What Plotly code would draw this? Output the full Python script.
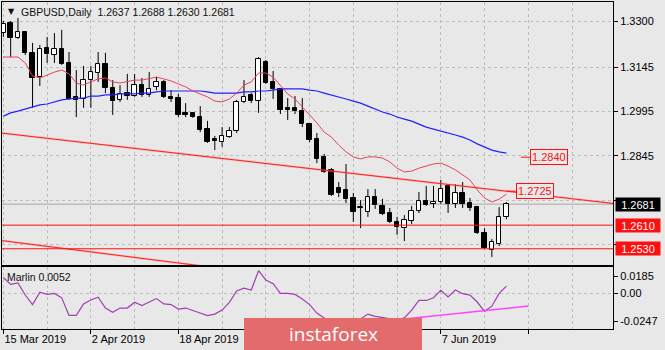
import plotly.graph_objects as go

# ---- GBPUSD daily bars (15 Mar 2019 .. 20 Jun 2019) ----
opens = [1.3260, 1.3294, 1.3244, 1.3264, 1.3193, 1.3112, 1.3210, 1.3186, 1.3206, 1.3159,
         1.3044, 1.3037, 1.3101, 1.3125, 1.3155, 1.3074, 1.3034, 1.3057, 1.3047, 1.3084,
         1.3051, 1.3078, 1.3095, 1.3044, 1.3040, 1.2990, 1.2990, 1.2976, 1.2935, 1.2902,
         1.2891, 1.2908, 1.2929, 1.3027, 1.3051, 1.3030, 1.3162, 1.3095, 1.3071, 1.3007,
         1.3007, 1.2996, 1.2952, 1.2902, 1.2841, 1.2797, 1.2736, 1.2729, 1.2702, 1.2669,
         1.2655, 1.2705, 1.2675, 1.2651, 1.2621, 1.2600, 1.2624, 1.2658, 1.2692, 1.2682,
         1.2688, 1.2743, 1.2682, 1.2719, 1.2685, 1.2671, 1.2583, 1.2526, 1.2546, 1.2637]
highs = [1.3301, 1.3301, 1.3311, 1.3267, 1.3227, 1.3220, 1.3247, 1.3260, 1.3271, 1.3196,
         1.3135, 1.3149, 1.3149, 1.3196, 1.3193, 1.3101, 1.3084, 1.3122, 1.3122, 1.3108,
         1.3128, 1.3112, 1.3101, 1.3067, 1.3054, 1.3023, 1.2993, 1.3013, 1.2963, 1.2912,
         1.2942, 1.2942, 1.3034, 1.3101, 1.3057, 1.3179, 1.3169, 1.3132, 1.3074, 1.3040,
         1.3047, 1.3040, 1.2956, 1.2922, 1.2851, 1.2803, 1.2756, 1.2817, 1.2719, 1.2695,
         1.2732, 1.2732, 1.2699, 1.2668, 1.2638, 1.2644, 1.2675, 1.2722, 1.2743, 1.2743,
         1.2763, 1.2749, 1.2749, 1.2756, 1.2702, 1.2674, 1.2600, 1.2563, 1.2671, 1.2688]
lows = [1.3247, 1.3179, 1.3240, 1.3186, 1.3007, 1.3081, 1.3159, 1.3159, 1.3152, 1.3034,
        1.2976, 1.3007, 1.3007, 1.3095, 1.3057, 1.2983, 1.3027, 1.3034, 1.3044, 1.3044,
        1.3044, 1.3067, 1.3040, 1.3027, 1.2976, 1.2976, 1.2973, 1.2925, 1.2888, 1.2864,
        1.2875, 1.2905, 1.2922, 1.3023, 1.3023, 1.2990, 1.3088, 1.3037, 1.2986, 1.2966,
        1.2986, 1.2942, 1.2891, 1.2820, 1.2787, 1.2709, 1.2705, 1.2685, 1.2621, 1.2600,
        1.2638, 1.2665, 1.2644, 1.2617, 1.2577, 1.2556, 1.2614, 1.2651, 1.2675, 1.2668,
        1.2682, 1.2651, 1.2668, 1.2668, 1.2658, 1.2580, 1.2529, 1.2502, 1.2539, 1.2630]
closes = [1.3291, 1.3244, 1.3264, 1.3193, 1.3108, 1.3206, 1.3189, 1.3206, 1.3155, 1.3037,
          1.3034, 1.3101, 1.3128, 1.3155, 1.3074, 1.3030, 1.3054, 1.3047, 1.3084, 1.3051,
          1.3071, 1.3095, 1.3044, 1.3037, 1.2983, 1.2983, 1.2976, 1.2932, 1.2891, 1.2895,
          1.2912, 1.2929, 1.3027, 1.3044, 1.3030, 1.3172, 1.3091, 1.3071, 1.3000, 1.3000,
          1.2996, 1.2952, 1.2898, 1.2834, 1.2790, 1.2712, 1.2719, 1.2698, 1.2655, 1.2672,
          1.2705, 1.2678, 1.2648, 1.2621, 1.2604, 1.2627, 1.2658, 1.2692, 1.2678, 1.2688,
          1.2732, 1.2682, 1.2719, 1.2682, 1.2668, 1.2583, 1.2533, 1.2553, 1.2637, 1.2681]

# fast moving average (red) and slow moving average (blue)
ma_fast = [1.3179, 1.3179, 1.3179, 1.3159, 1.3115, 1.3108, 1.3118, 1.3128, 1.3135, 1.3122,
           1.3091, 1.3084, 1.3095, 1.3105, 1.3108, 1.3095, 1.3091, 1.3095, 1.3101, 1.3101,
           1.3105, 1.3111, 1.3105, 1.3098, 1.3088, 1.3078, 1.3064, 1.3054, 1.3044, 1.3030,
           1.3027, 1.3037, 1.3057, 1.3084, 1.3095, 1.3125, 1.3125, 1.3111, 1.3081, 1.3054,
           1.3037, 1.3010, 1.2986, 1.2956, 1.2925, 1.2908, 1.2881, 1.2858, 1.2841, 1.2834,
           1.2841, 1.2841, 1.2837, 1.2824, 1.2803, 1.2790, 1.2793, 1.2803, 1.2810, 1.2817,
           1.2820, 1.2810, 1.2797, 1.2780, 1.2763, 1.2729, 1.2702, 1.2688, 1.2698, 1.2715]
ma_slow = [1.2979, 1.2990, 1.2996, 1.3003, 1.3010, 1.3017, 1.3020, 1.3027, 1.3034, 1.3037,
           1.3040, 1.3040, 1.3047, 1.3047, 1.3051, 1.3051, 1.3054, 1.3054, 1.3054, 1.3057,
           1.3057, 1.3061, 1.3064, 1.3064, 1.3064, 1.3064, 1.3064, 1.3064, 1.3061, 1.3057,
           1.3057, 1.3057, 1.3057, 1.3061, 1.3061, 1.3064, 1.3064, 1.3067, 1.3071, 1.3071,
           1.3071, 1.3071, 1.3067, 1.3064, 1.3057, 1.3051, 1.3044, 1.3037, 1.3030, 1.3023,
           1.3013, 1.3003, 1.2993, 1.2986, 1.2976, 1.2969, 1.2962, 1.2952, 1.2942, 1.2935,
           1.2929, 1.2922, 1.2915, 1.2908, 1.2898, 1.2885, 1.2875, 1.2864, 1.2858, 1.2854]

# Marlin oscillator
marlin = [0.0112, 0.0064, 0.0074, -0.0010, -0.0077, 0.0010, -0.0006, 0.0001, -0.0030, -0.0152,
          -0.0152, -0.0072, -0.0045, -0.0025, -0.0101, -0.0131, -0.0101, -0.0101, -0.0060, -0.0084,
          -0.0059, -0.0035, -0.0072, -0.0077, -0.0108, -0.0101, -0.0118, -0.0136, -0.0154, -0.0143,
          -0.0115, -0.0061, 0.0018, 0.0037, 0.0025, 0.0159, 0.0095, 0.0069, 0.0001, 0.0001,
          -0.0006, -0.0038, -0.0077, -0.0136, -0.0171, -0.0198, -0.0219, -0.0212, -0.0205, -0.0177,
          -0.0143, -0.0159, -0.0166, -0.0174, -0.0184, -0.0170, -0.0115, -0.0048, -0.0048, -0.0029,
          0.0022, -0.0023, 0.0025, -0.0001, -0.0011, -0.0059, -0.0124, -0.0088, 0.0001, 0.0052]

# date axis: labels under the logo block stay blank
date_bars = [0, 12, 24, 36, 48, 60, 72]
date_labels = ["15 Mar 2019", "2 Apr 2019", "18 Apr 2019", "", "", "7 Jun 2019", ""]

# price scale: the two lowest grid levels are covered by the price boxes
price_ticks = [1.3300, 1.3145, 1.2995, 1.2845, 1.2695, 1.2545]
price_tick_text = ["1.3300", "1.3145", "1.2995", "1.2845", "", ""]

# drawn objects: channel lines (bar, price), horizontal levels, price labels
channel_upper = [(0, 1.2921), (69, 1.2725)]
channel_lower = [(0, 1.2557), (24, 1.2482)]
support_levels = [1.2610, 1.2530]
last_price = 1.2681
price_tags = [(69, 1.2725), (71, 1.2840)]
marlin_trend = [(48, -0.0214), (72, -0.0087)]
marlin_max, marlin_min = 0.0185, -0.0247

# ---- layout geometry ----
W, H = 665, 350
ML, MR, MT, MB = 2, 52, 2, 21
PW, PH = W - ML - MR, H - MT - MB
X_RANGE = [-0.19, 83.62]
Y_RANGE = [1.24751, 1.33653]
main_dom = [(H - MB - 265) / PH, 1.0]
ind_dom = [0.0, (H - MB - 267) / PH]

BG = "#e8e8e8"
FONT = "Liberation Sans"
GRID = "#bdbdbd"

n = len(opens)
idx = list(range(n))

fig = go.Figure()

# candle wicks, split so they do not cross bodies
wx, wy = [], []
for i, o, h, l, c in zip(idx, opens, highs, lows, closes):
    top, bot = max(o, c), min(o, c)
    wx += [i, i, None, i, i, None]
    wy += [h, top, None, bot, l, None]
fig.add_trace(go.Scatter(x=wx, y=wy, mode="lines", line=dict(color="black", width=1),
                         xaxis="x", yaxis="y", hoverinfo="skip"))

# candle bodies
body_base = [min(o, c) for o, c in zip(opens, closes)]
body_h = [max(abs(c - o), 0.00006) for o, c in zip(opens, closes)]
body_col = ["white" if c >= o else "black" for o, c in zip(opens, closes)]
fig.add_trace(go.Bar(x=idx, y=body_h, base=body_base, width=0.6,
                     marker=dict(color=body_col, line=dict(color="black", width=1)),
                     xaxis="x", yaxis="y", hoverinfo="skip"))

# moving averages
fig.add_trace(go.Scatter(x=idx, y=ma_slow, mode="lines", line=dict(color="#2222ff", width=1.2),
                         xaxis="x", yaxis="y", hoverinfo="skip"))
fig.add_trace(go.Scatter(x=idx, y=ma_fast, mode="lines", line=dict(color="#e8415a", width=1),
                         xaxis="x", yaxis="y", hoverinfo="skip"))


def ray(points, x_end, x_start=None):
    (x0, y0), (x1, y1) = points
    k = (y1 - y0) / (x1 - x0)
    xs = x0 if x_start is None else x_start
    return [xs, x_end], [y0 + k * (xs - x0), y0 + k * (x_end - x0)]


for pts in (channel_upper, channel_lower):
    rx, ry = ray(pts, X_RANGE[1], X_RANGE[0])
    fig.add_trace(go.Scatter(x=rx, y=ry, mode="lines",
                             line=dict(color="rgba(255,110,110,0.35)", width=2.2),
                             xaxis="x", yaxis="y", hoverinfo="skip"))
    fig.add_trace(go.Scatter(x=rx, y=ry, mode="lines", line=dict(color="#ff2020", width=1),
                             xaxis="x", yaxis="y", hoverinfo="skip"))

# Marlin panel
fig.add_trace(go.Scatter(x=idx, y=marlin, mode="lines", line=dict(color="#a040b0", width=1.2),
                         xaxis="x2", yaxis="y2", hoverinfo="skip"))
mx, my = ray(marlin_trend, marlin_trend[1][0])
fig.add_trace(go.Scatter(x=mx, y=my, mode="lines", line=dict(color="#ff44ff", width=1.5),
                         xaxis="x2", yaxis="y2", hoverinfo="skip"))

shapes = []
for lvl in support_levels:
    shapes.append(dict(type="line", xref="x domain", yref="y", x0=0, x1=1, y0=lvl, y1=lvl,
                       line=dict(color="#ff1010", width=1)))
shapes.append(dict(type="line", xref="x domain", yref="y", x0=0, x1=1, y0=last_price, y1=last_price,
                   line=dict(color="#a8a8a8", width=1), layer="below"))
shapes.append(dict(type="line", xref="x2 domain", yref="y2", x0=0, x1=1, y0=0, y1=0,
                   line=dict(color=GRID, width=1, dash="3px,3px"), layer="below"))
for bar, lvl in price_tags:
    shapes.append(dict(type="line", xref="x", yref="y", x0=bar, x1=bar + 1.3, y0=lvl, y1=lvl,
                       line=dict(color="#ff1010", width=1)))


def px_x(p):
    return (p - ML) / PW


def px_y(p):
    return (H - MB - p) / PH


# logo block
shapes.append(dict(type="rect", xref="paper", yref="paper", x0=px_x(244), x1=px_x(422),
                   y0=px_y(351), y1=px_y(318), fillcolor="#e46b6b", line=dict(width=0),
                   layer="above"))

ann = []
for bar, lvl in price_tags:
    ann.append(dict(x=bar + 1.3, y=lvl, xref="x", yref="y", text=f"{lvl:.4f}", showarrow=False,
                    xanchor="left", yanchor="middle", font=dict(family=FONT, size=11, color="#ff1010"),
                    bordercolor="#ff1010", borderwidth=1, borderpad=1, bgcolor=BG))

for lvl, bg in ((last_price, "black"), (support_levels[0], "#ff1010"), (support_levels[1], "#ff1010")):
    ann.append(dict(x=1, y=lvl, xref="paper", yref="y", text=f"{lvl:.4f}", showarrow=False,
                    xanchor="left", yanchor="middle", xshift=2, width=42, height=11,
                    font=dict(family=FONT, size=11, color="white"), bgcolor=bg, borderpad=1))

ann.append(dict(x=px_x(6), y=px_y(12), xref="paper", yref="paper", text="▼", showarrow=False,
                xanchor="left", yanchor="middle", font=dict(family="DejaVu Sans", size=8, color="#111")))
ann.append(dict(x=px_x(19), y=px_y(12), xref="paper", yref="paper",
                text="GBPUSD,Daily  " + " ".join(f"{v:.4f}" for v in
                                                  (opens[-1], highs[-1], lows[-1], closes[-1])),
                showarrow=False, xanchor="left", yanchor="middle",
                font=dict(family=FONT, size=10.5, color="#111")))
ann.append(dict(x=px_x(5), y=px_y(277), xref="paper", yref="paper",
                text=f"Marlin {marlin[-1]:.4f}", showarrow=False, xanchor="left", yanchor="middle",
                font=dict(family=FONT, size=10.5, color="#111")))
ann.append(dict(x=px_x(333), y=px_y(334), xref="paper", yref="paper", text="instaforex",
                showarrow=False, xanchor="center", yanchor="middle",
                font=dict(family="Open Sans", size=19, color="white")))

# indicator scale labels sit just inside the panel edges
unit = (marlin_max - marlin_min) / 62
m_ticks = [marlin_max - 9 * unit, 0.0, marlin_min + 8 * unit]
m_text = [f"{marlin_max:.4f}", "0.00", f"{marlin_min:.4f}"]

axis_common = dict(showline=True, linecolor="black", linewidth=1, mirror=True, zeroline=False)

fig.update_layout(
    width=W, height=H, margin=dict(l=ML, r=MR, t=MT, b=MB),
    paper_bgcolor=BG, plot_bgcolor=BG, showlegend=False, bargap=0,
    font=dict(family=FONT, size=11, color="black"),
    shapes=shapes, annotations=ann, hovermode=False,
    xaxis=dict(domain=[0, 1], anchor="y", range=X_RANGE, tickvals=list(range(0, 84, 6)),
               showticklabels=False, ticks="", showgrid=True, gridcolor=GRID, griddash="3px,3px",
               **axis_common),
    yaxis=dict(domain=main_dom, anchor="x", side="right", range=Y_RANGE, tickvals=price_ticks,
               ticktext=price_tick_text, ticks="outside", ticklen=4, tickcolor="black",
               showgrid=True, gridcolor=GRID, griddash="3px,3px", **axis_common),
    xaxis2=dict(domain=[0, 1], anchor="y2", range=X_RANGE, matches="x", tickvals=date_bars,
                ticktext=date_labels, ticks="outside", ticklen=4, tickcolor="black",
                ticklabelposition="outside right", showgrid=True, gridcolor=GRID, griddash="3px,3px",
                minor=dict(dtick=6, tick0=0, showgrid=True, gridcolor=GRID, griddash="3px,3px"),
                **axis_common),
    yaxis2=dict(domain=ind_dom, anchor="x2", side="right", range=[marlin_min, marlin_max],
                tickvals=m_ticks, ticktext=m_text, ticks="outside", ticklen=4, tickcolor="black",
                showgrid=False, **axis_common),
)

fig.write_html("out.html")
